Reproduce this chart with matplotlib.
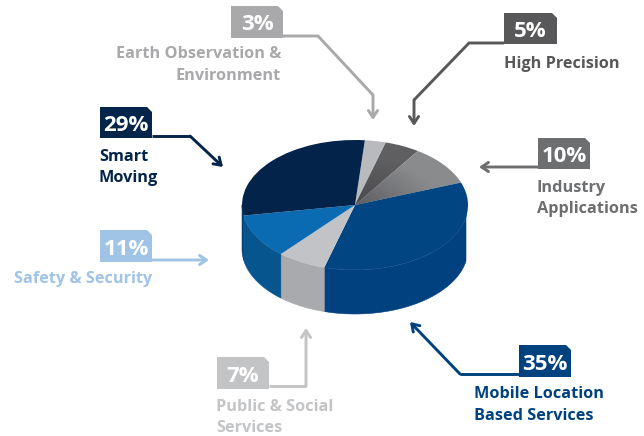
import numpy as np
import matplotlib
matplotlib.use("Agg")
import matplotlib.pyplot as plt
from matplotlib.colors import LinearSegmentedColormap
from matplotlib.patches import Polygon

# Market share by application segment, clockwise from the top of the pie
segments = ["Earth Observation &\nEnvironment", "High Precision", "Industry\nApplications",
            "Mobile Location\nBased Services", "Public & Social\nServices",
            "Safety & Security", "Smart\nMoving"]
shares = [3, 5, 10, 35, 7, 11, 29]

top_colors = ["#b9babd", "#5f5f61", "#8a8b8d", "#024583", "#c2c3c7", "#0b6bb2", "#03234a"]
side_colors = ["#9a9a9c", "#4a4a4c", "#6a6a6c", "#01417f", "#a9aaad", "#07558f", "#06406f"]
label_colors = ["#a9a9ab", "#58585a", "#6d6e70", "#00427f", "#c3c4c6", "#a0c4e6", "#04254a"]

W, H = 644, 436
CX, CY, RX, RY, DEPTH = 355, 205, 113, 65, 44
RIGHT_EDGE = 466
START = 85

plt.rcParams["font.family"] = "Open Sans"
plt.rcParams["font.weight"] = "bold"

fig = plt.figure(figsize=(W / 100, H / 100), dpi=100)
ax = fig.add_axes([0, 0, 1, 1])
ax.set_xlim(0, W)
ax.set_ylim(H, 0)
ax.axis("off")

# Rim of the disc: one band per slice, only along the front half
angle = START
for share, color in zip(shares, side_colors):
    a0, a1 = angle, angle - share * 3.6
    angle = a1
    lo, hi = max(a1, -180), min(a0, 0)
    if lo >= hi:
        continue
    t = np.radians(np.linspace(lo, hi, 60))
    x = np.minimum(CX + RX * np.cos(t), RIGHT_EDGE)
    y = CY - RY * np.sin(t)
    pts = np.r_[np.c_[x, y], np.c_[x, y + DEPTH][::-1]]
    ax.add_patch(Polygon(pts, closed=True, fc=color, ec=color, lw=0.4, zorder=1))

# Top face: a regular pie squashed into an ellipse by its own axes
left, right = CX - RX - 1, RIGHT_EDGE
pie_ax = fig.add_axes([left / W, 1 - (CY + RY + 1) / H, (right - left) / W, (2 * RY + 2) / H])
wedges, _ = pie_ax.pie(shares, colors=top_colors, startangle=START, counterclock=False, radius=1,
                       wedgeprops={"lw": 0.3, "edgecolor": "none"})
pie_ax.set_aspect("auto")
x_lim = ((left - CX) / RX, (right - CX) / RX)
y_lim = (-(RY + 1) / RY, (RY + 1) / RY)
pie_ax.patch.set_alpha(0)

# The grey slices darken towards the hub
gx, gy = np.meshgrid(np.linspace(-1, 1, 200), np.linspace(-1, 1, 200))
hub_shade = LinearSegmentedColormap.from_list("hub", [(0.22, 0.22, 0.24, 0.55), (0.22, 0.22, 0.24, 0.0)])
for wedge in wedges[1:3]:
    shade = pie_ax.imshow(np.hypot(gx, gy), extent=(-1, 1, -1, 1), origin="lower", cmap=hub_shade,
                          vmin=0, vmax=0.75, aspect="auto", zorder=wedge.get_zorder() + 1)
    shade.set_clip_path(wedge)
pie_ax.set_xlim(*x_lim)
pie_ax.set_ylim(*y_lim)


def tag(x0, y0, x1, y1, color, text):
    """Percentage flag with its top right corner cut off."""
    cut = 5
    ax.add_patch(Polygon([(x0, y0), (x1 - cut, y0), (x1, y0 + cut), (x1, y1), (x0, y1)],
                         closed=True, fc=color, ec="none", zorder=3))
    ax.text((x0 + x1) / 2, (y0 + y1) / 2 + 0.5, text, color="white", fontsize=16,
            ha="center", va="center_baseline", zorder=4)


def leader(points, color):
    """Bent leader line ending in an open arrow head."""
    xs, ys = zip(*points)
    ax.plot(xs[:-1], ys[:-1], color=color, lw=2.1, solid_joinstyle="miter",
            solid_capstyle="butt", zorder=2)
    ax.annotate("", xy=points[-1], xytext=points[-2], zorder=2,
                arrowprops=dict(arrowstyle="->,head_length=0.45,head_width=0.3", color=color,
                                lw=2.1, shrinkA=0, shrinkB=0, mutation_scale=11))


def caption(x, y, text, color, ha="left"):
    ax.text(x, y, text, color=color, fontsize=11.7, ha=ha, va="center",
            linespacing=1.45, zorder=4)


# Flags in segment order: box corners, leader path and caption anchor
tags = [(231, 6, 283, 38), (504, 13, 557, 44), (538, 138, 590, 169), (519, 345, 571, 377),
        (217, 357, 269, 389), (100, 230, 152, 262), (100, 107, 152, 138)]
leaders = [
    [(283, 36), (318, 36), (373, 95), (373, 120)],
    [(504, 43), (469, 43), (414, 100), (414, 126)],
    [(538, 167), (479, 167)],
    [(519, 374), (460, 374), (410, 322)],
    [(269, 386), (306, 386), (306, 328)],
    [(152, 260), (209, 260)],
    [(152, 136), (190, 136), (223, 167)],
]
captions = [(281, 65, "right"), (504, 63.5, "left"), (537, 198.5, "left"), (474, 405, "left"),
            (216, 417.5, "left"), (152, 278.5, "right"), (99, 167.5, "left")]

for seg, share, color, box, path, cap in zip(segments, shares, label_colors, tags, leaders, captions):
    leader(path, color)
    tag(*box, color, f"{share}%")
    caption(cap[0], cap[1], seg, color, ha=cap[2])

fig.savefig("out.png", dpi=100)
